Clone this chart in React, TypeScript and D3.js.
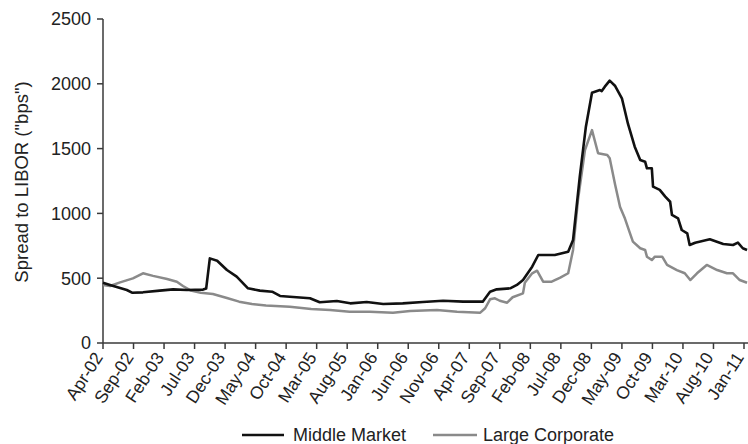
import React from "react";
import * as d3 from "d3";

// months since Apr-2002
const mmMonths = [0, 1.15, 2.8, 3.9, 4.75, 6.55, 9.3, 11.5, 13.75, 16.4, 16.9, 17.5, 18.7, 20.3, 21.9, 23.75, 25.7, 27.7, 29.0, 30.6, 33.9, 35.5, 38.3, 40.5, 43.2, 45.9, 49.1, 52.4, 55.7, 59.0, 62.2, 63.4, 64.5, 66.7, 67.8, 68.8, 70.3, 71.3, 74.0, 76.2, 77.0, 78.1, 79.1, 80.1, 81.4, 81.7, 82.2, 83.0, 83.9, 85.0, 86.0, 87.1, 88.0, 88.8, 89.1, 89.9, 90.1, 91.2, 92.1, 92.9, 93.2, 94.2, 94.8, 95.7, 96.1, 97.0, 99.4, 101.6, 103.2, 104.0, 104.8, 105.5];
const mmValues = [465, 448, 424, 409, 388, 391, 404, 414, 409, 412, 420, 653, 635, 563, 512, 422, 404, 396, 363, 357, 345, 314, 324, 306, 316, 301, 306, 316, 326, 319, 319, 396, 414, 422, 448, 486, 589, 679, 679, 704, 795, 1283, 1669, 1931, 1952, 1944, 1978, 2024, 1983, 1888, 1690, 1515, 1412, 1399, 1348, 1348, 1206, 1181, 1129, 1090, 988, 962, 872, 846, 756, 774, 800, 764, 756, 774, 731, 718];

const lcMonths = [0, 1.15, 2.8, 4.9, 6.55, 8.2, 10.5, 12.1, 13.1, 14.4, 16.0, 18.0, 20.3, 22.3, 24.4, 26.7, 30.6, 34.1, 37.2, 40.4, 43.7, 47.5, 50.3, 54.7, 58.0, 61.8, 62.6, 63.4, 64.2, 65.0, 66.2, 67.1, 68.8, 69.1, 70.3, 71.1, 72.1, 73.5, 74.9, 76.2, 77.0, 77.8, 78.95, 80.1, 81.1, 82.6, 83.0, 83.9, 84.7, 85.5, 86.3, 86.8, 88.0, 88.8, 89.1, 89.9, 90.4, 91.6, 92.4, 94.0, 95.3, 96.2, 97.3, 98.9, 100.6, 102.2, 103.2, 104.3, 105.5];
const lcValues = [448, 440, 468, 499, 538, 518, 494, 473, 440, 404, 388, 378, 347, 319, 301, 290, 280, 262, 255, 242, 242, 234, 247, 255, 242, 234, 268, 337, 345, 326, 311, 353, 383, 465, 538, 558, 473, 473, 504, 538, 718, 1103, 1489, 1643, 1464, 1451, 1425, 1220, 1050, 960, 850, 782, 731, 718, 666, 640, 666, 666, 602, 563, 538, 486, 538, 602, 563, 538, 538, 486, 465];

const tickLabels = ["Apr-02", "Sep-02", "Feb-03", "Jul-03", "Dec-03", "May-04", "Oct-04", "Mar-05", "Aug-05", "Jan-06", "Jun-06", "Nov-06", "Apr-07", "Sep-07", "Feb-08", "Jul-08", "Dec-08", "May-09", "Oct-09", "Mar-10", "Aug-10", "Jan-11"];
const yTicks = [0, 500, 1000, 1500, 2000, 2500];

const W = 748;
const H = 444;
const FONT = "'Liberation Sans', Arial, Helvetica, sans-serif";

export default function App() {
  const x = d3.scaleLinear().domain([0, 105]).range([103, 744]);
  const y = d3.scaleLinear().domain([0, 2500]).range([343, 19]);
  const line = d3
    .line<[number, number]>()
    .x((d) => x(d[0]))
    .y((d) => y(d[1]));
  const mm = mmMonths.map((m, i) => [m, mmValues[i]] as [number, number]);
  const lc = lcMonths.map((m, i) => [m, lcValues[i]] as [number, number]);
  const axisColor = "#3a3a3a";
  const textColor = "#222";

  return (
    <svg
      width={W}
      height={H}
      style={{ position: "absolute", left: 0, top: 0, background: "#fff" }}
      fontFamily={FONT}
    >
      <rect width={W} height={H} fill="#fff" />
      {/* y axis */}
      <line x1={x(0)} x2={x(0)} y1={y(2500)} y2={y(0)} stroke={axisColor} strokeWidth={1.5} />
      {yTicks.map((t) => (
        <g key={t}>
          <line x1={x(0) - 6} x2={x(0)} y1={y(t)} y2={y(t)} stroke={axisColor} strokeWidth={1.5} />
          <text x={x(0) - 12} y={y(t)} dy="0.36em" textAnchor="end" fontSize={18} fill={textColor}>
            {t}
          </text>
        </g>
      ))}
      <text
        transform={`translate(28, 182) rotate(-90)`}
        textAnchor="middle"
        fontSize={18.5}
        fill={textColor}
      >
        Spread to LIBOR ("bps")
      </text>
      {/* x axis */}
      <line x1={x(0)} x2={W} y1={y(0)} y2={y(0)} stroke={axisColor} strokeWidth={1.5} />
      {tickLabels.map((lab, i) => {
        const xx = x(i * 5);
        return (
          <g key={lab}>
            <line x1={xx} x2={xx} y1={y(0)} y2={y(0) + 6} stroke={axisColor} strokeWidth={1.5} />
            <text
              transform={`translate(${xx - 3}, ${y(0) + 12}) rotate(-57)`}
              textAnchor="end"
              dy="0.25em"
              fontSize={17.5}
              fill={textColor}
            >
              {lab}
            </text>
          </g>
        );
      })}
      {/* series */}
      <path d={line(lc) || ""} fill="none" stroke="#8a8a8a" strokeWidth={2.5} strokeLinejoin="round" />
      <path d={line(mm) || ""} fill="none" stroke="#111" strokeWidth={2.6} strokeLinejoin="round" />
      {/* legend */}
      <line x1={242} x2={284} y1={435} y2={435} stroke="#111" strokeWidth={2.6} />
      <text x={293} y={441} fontSize={18} fill={textColor}>
        Middle Market
      </text>
      <line x1={433} x2={477} y1={435} y2={435} stroke="#8a8a8a" strokeWidth={2.5} />
      <text x={483} y={441} fontSize={18} fill={textColor}>
        Large Corporate
      </text>
    </svg>
  );
}
